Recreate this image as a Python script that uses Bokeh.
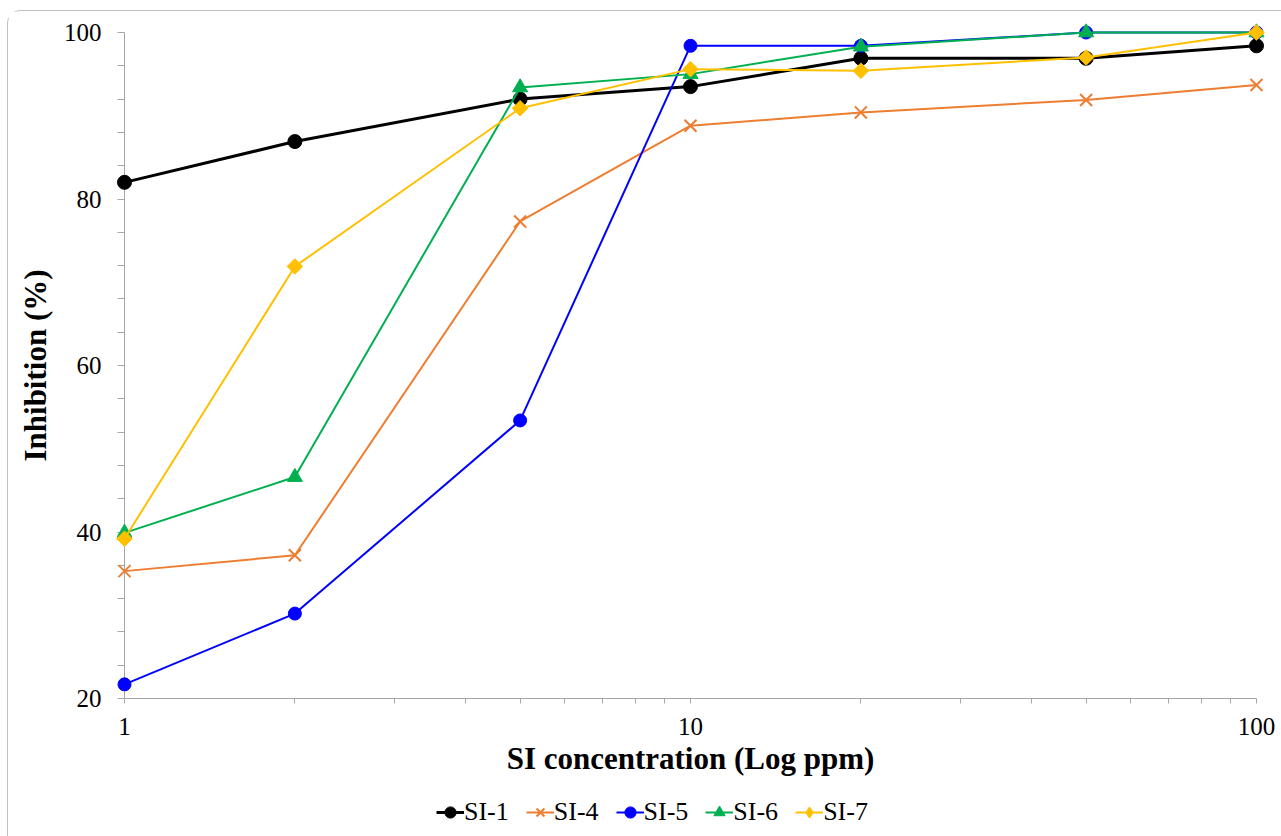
from bokeh.plotting import figure
from bokeh.layouts import column
from bokeh.models import FixedTicker, Legend, LegendItem, NumeralTickFormatter, Range1d
from bokeh.embed import file_html
from bokeh.resources import INLINE
import math

# ---- data ----
conc = [1, 2, 5, 10, 20, 50, 100]
si1 = [82.0, 86.9, 92.0, 93.5, 96.9, 96.9, 98.4]
si4 = [35.3, 37.2, 77.3, 88.8, 90.4, 91.9, 93.7]
si5 = [21.7, 30.2, 53.4, 98.4, 98.4, 100.0, 100.0]
si6 = [39.9, 46.6, 93.4, 95.0, 98.3, 100.0, 100.0]
si7 = [39.2, 71.9, 90.9, 95.6, 95.4, 97.0, 100.0]
series_names = ["SI-1", "SI-4", "SI-5", "SI-6", "SI-7"]
x_major = [1, 10, 100]
x_minor = [2, 3, 4, 5, 6, 7, 8, 9, 20, 30, 40, 50, 60, 70, 80, 90]
y_major = [20, 40, 60, 80, 100]
y_minor = [24, 28, 32, 36, 44, 48, 52, 56, 64, 68, 72, 76, 84, 88, 92, 96]

FONT = "Liberation Serif"
AX = "#A6A6A6"
BORDER = "1px solid #BFBFBF"

p = figure(width=1274, height=780, x_axis_type="log", output_backend="svg",
           toolbar_location=None, x_range=Range1d(1, 100), y_range=Range1d(20, 100),
           margin=(10, 0, 0, 7),
           styles={"border-left": BORDER, "border-top": BORDER,
                   "border-top-left-radius": "14px"})
p.min_border_left = 116
p.min_border_right = 26
p.min_border_top = 21
p.min_border_bottom = 93
p.outline_line_color = None
p.grid.visible = False
p.background_fill_color = "white"
p.border_fill_color = "white"

# axes
xa = p.xaxis[0]
xa.ticker = FixedTicker(ticks=x_major, minor_ticks=x_minor)
xa.formatter = NumeralTickFormatter(format="0")
ya = p.yaxis[0]
ya.ticker = FixedTicker(ticks=y_major, minor_ticks=y_minor)
for ax in (xa, ya):
    ax.axis_line_color = AX
    ax.major_tick_line_color = AX
    ax.minor_tick_line_color = AX
    ax.major_tick_in = 0
    ax.minor_tick_in = 0
    ax.major_label_text_font = FONT
    ax.major_label_text_font_size = "25px"
    ax.major_label_text_color = "black"
    ax.axis_label_text_font = FONT
    ax.axis_label_text_font_size = "31px"
    ax.axis_label_text_font_style = "bold"
    ax.axis_label_text_color = "black"
xa.major_tick_out = 5
xa.minor_tick_out = 5
ya.major_tick_out = 7
ya.minor_tick_out = 7
xa.major_label_standoff = 14
ya.major_label_standoff = 16
xa.axis_label = "SI concentration (Log ppm)"
ya.axis_label = "Inhibition (%)"
xa.axis_label_standoff = 3
ya.axis_label_standoff = 8

# legend strip below the chart (its own frame, so the legend is not clipped)
lf = figure(width=1274, height=46, output_backend="svg", toolbar_location=None,
            x_axis_location=None, y_axis_location=None,
            x_range=Range1d(1000, 2000), y_range=Range1d(1000, 2000),
            margin=(0, 0, 0, 7), styles={"border-left": BORDER})
lf.min_border = 0
lf.outline_line_color = None
lf.grid.visible = False
lf.border_fill_color = "white"
lf.background_fill_color = "white"

specs = [
    (si1, "#000000", 3, "circle", 14, 0.0, "circle"),
    (si4, "#ED7D31", 2, "x", 17, 0.0, "x"),
    (si5, "#0000FF", 2, "circle", 13, 0.0, "circle"),
    (si6, "#00B050", 2, "triangle", 15, 0.0, "triangle"),
    (si7, "#FFC000", 2, "square", 11, math.pi / 4, "diamond"),
]
items = []
for (ys, col, lw, mk, sz, ang, lmk), name in zip(specs, series_names):
    mlw = 2 if mk == "x" else 1
    p.line(conc, ys, line_color=col, line_width=lw, level="overlay")
    p.scatter(conc, ys, marker=mk, size=sz, angle=ang, fill_color=col,
              line_color=col, line_width=mlw, level="overlay")
    # same series in the legend strip (outside its ranges, so only the legend shows)
    l1 = lf.line(conc, ys, line_color=col, line_width=lw)
    l2 = lf.scatter(conc, ys, marker=lmk, size=sz, fill_color=col,
                    line_color=col, line_width=mlw)
    items.append(LegendItem(label=name, renderers=[l1, l2]))

legend = Legend(items=items, orientation="horizontal", location=(312, 9),
                label_text_font=FONT, label_text_font_size="26px",
                label_text_color="black", label_text_baseline="middle",
                glyph_width=28, glyph_height=30, label_standoff=0, spacing=17,
                padding=0, margin=0, border_line_color=None,
                background_fill_alpha=0)
lf.add_layout(legend, "center")

layout = column(p, lf, spacing=0)
open("out.html", "w").write(file_html(layout, INLINE))
